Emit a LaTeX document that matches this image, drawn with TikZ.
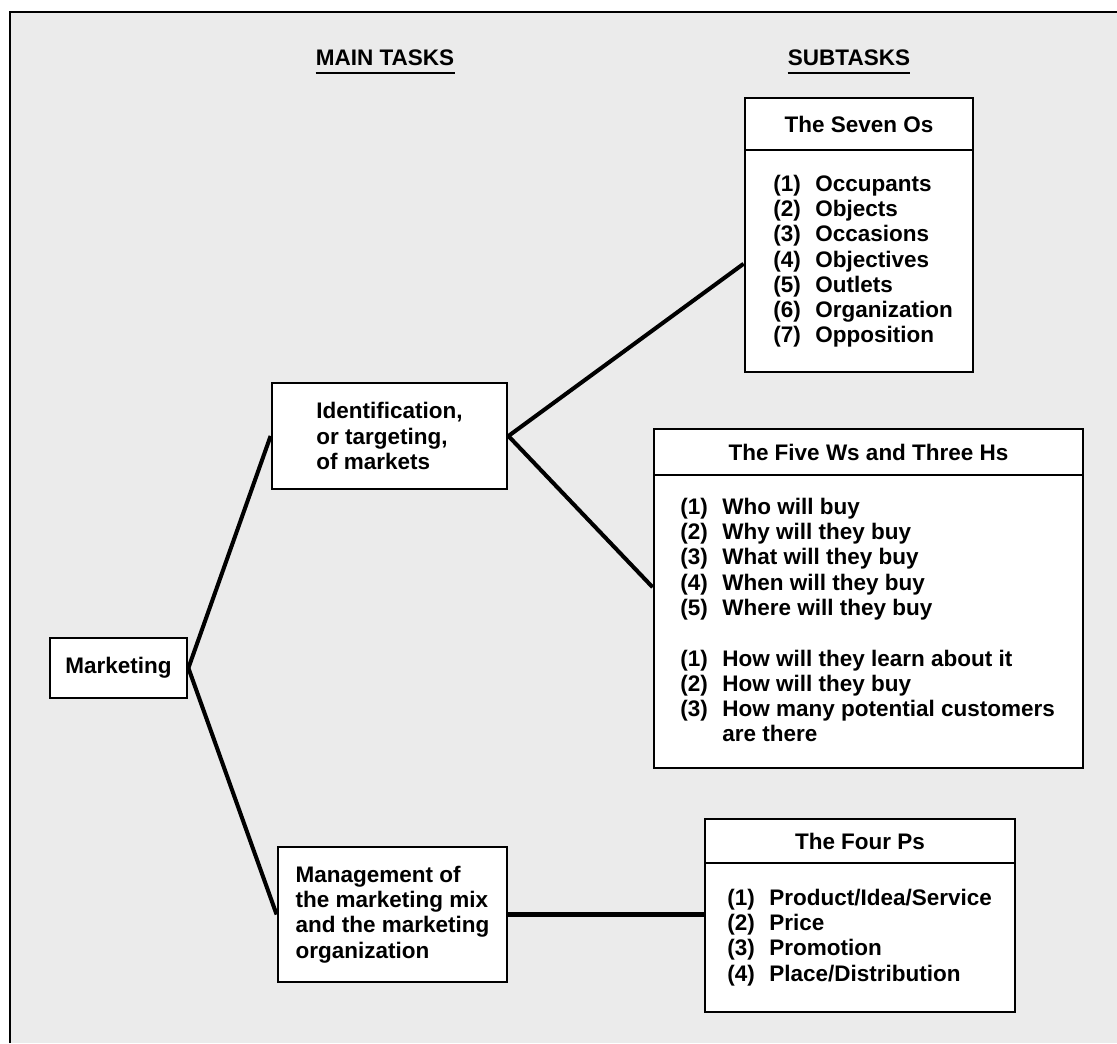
\documentclass[tikz,border=0pt]{standalone}
\usepackage{fontspec}
\setmainfont{Liberation Sans}
\usepackage{array}
\newcommand{\mkfont}{\fontsize{12.8}{14.4}\selectfont\bfseries}

\begin{document}
\begin{tikzpicture}[
  mktask/.style={draw,line width=1.6pt,fill=white,align=left,font=\mkfont},
  mksub/.style={draw,line width=1.6pt,fill=white},
  mksubhd/.style={draw,line width=1.6pt,anchor=north,font=\mkfont},
  mklist/.style={anchor=west,inner sep=0pt,font=\mkfont},
  mkhd/.style={anchor=base,inner xsep=0pt,inner ysep=4.5pt,text depth=0pt,font=\mkfont},
  mklink/.style={line width=2.3pt}
]
  \useasboundingbox (0,0) rectangle (22.34,-20.86);
  % page frame
  \fill[black!8] (0.2,-0.24) rectangle (22.34,-20.86);
  \draw[line width=1.6pt] (0.2,-20.86) -- (0.2,-0.24) -- (22.34,-0.24);
  % column headings
  \node[mkhd] (mainhd) at (7.7,-1.3) {MAIN TASKS};
  \draw[line width=1pt] (mainhd.south west) -- (mainhd.south east);
  \node[mkhd] (subhd) at (16.98,-1.3) {SUBTASKS};
  \draw[line width=1pt] (subhd.south west) -- (subhd.south east);
  % main tasks
  \node[mktask,minimum width=2.74cm,minimum height=1.2cm] (mkt) at (2.37,-13.36) {Marketing};
  \node[mktask,minimum width=4.7cm,minimum height=2.12cm] (ident) at (7.79,-8.72)
    {Identification,\\or targeting,\\of markets};
  \node[mktask,minimum width=4.58cm,minimum height=2.7cm] (mgmt) at (7.85,-18.29)
    {Management of\\the marketing mix\\and the marketing\\organization};
  % subtasks: the seven Os
  \node[mksub,minimum width=4.56cm,minimum height=5.48cm] (sevenos) at (17.18,-4.70) {};
  \node[mksubhd,minimum width=4.56cm,minimum height=1.04cm] (sevenoshd) at (sevenos.north) {The Seven Os};
  \node[mklist] (sevenoslist) at (15.46,-5.24) {\begin{tabular}{@{}p{0.84cm}@{}l@{}}
    (1) & Occupants\\
    (2) & Objects\\
    (3) & Occasions\\
    (4) & Objectives\\
    (5) & Outlets\\
    (6) & Organization\\
    (7) & Opposition
  \end{tabular}};
  % subtasks: five Ws and three Hs
  \node[mksub,minimum width=8.58cm,minimum height=6.78cm] (fivews) at (17.37,-11.97) {};
  \node[mksubhd,minimum width=8.58cm,minimum height=0.92cm] (fivewshd) at (fivews.north) {The Five Ws and Three Hs};
  \node[mklist] (fivewslist) at (13.6,-12.46) {\begin{tabular}{@{}p{0.84cm}@{}l@{}}
    (1) & Who will buy\\
    (2) & Why will they buy\\
    (3) & What will they buy\\
    (4) & When will they buy\\
    (5) & Where will they buy\\
        & \\
    (1) & How will they learn about it\\
    (2) & How will they buy\\
    (3) & How many potential customers\\
        & are there
  \end{tabular}};
  % subtasks: four Ps
  \node[mksub,minimum width=6.2cm,minimum height=3.86cm] (fourps) at (17.2,-18.31) {};
  \node[mksubhd,minimum width=6.2cm,minimum height=0.88cm] (fourpshd) at (fourps.north) {The Four Ps};
  \node[mklist] (fourpslist) at (14.54,-18.76) {\begin{tabular}{@{}p{0.84cm}@{}l@{}}
    (1) & Product/Idea/Service\\
    (2) & Price\\
    (3) & Promotion\\
    (4) & Place/Distribution
  \end{tabular}};
  % links
  \draw[mklink] (mkt.east) -- (ident.west);
  \draw[mklink] (mkt.east) -- (mgmt.west);
  \draw[mklink] (ident.east) -- (sevenos.194);
  \draw[mklink] (ident.east) -- (fivews.177);
  \draw[mklink] (mgmt.east) -- (mgmt.east -| fourps.west);
\end{tikzpicture}
\end{document}
